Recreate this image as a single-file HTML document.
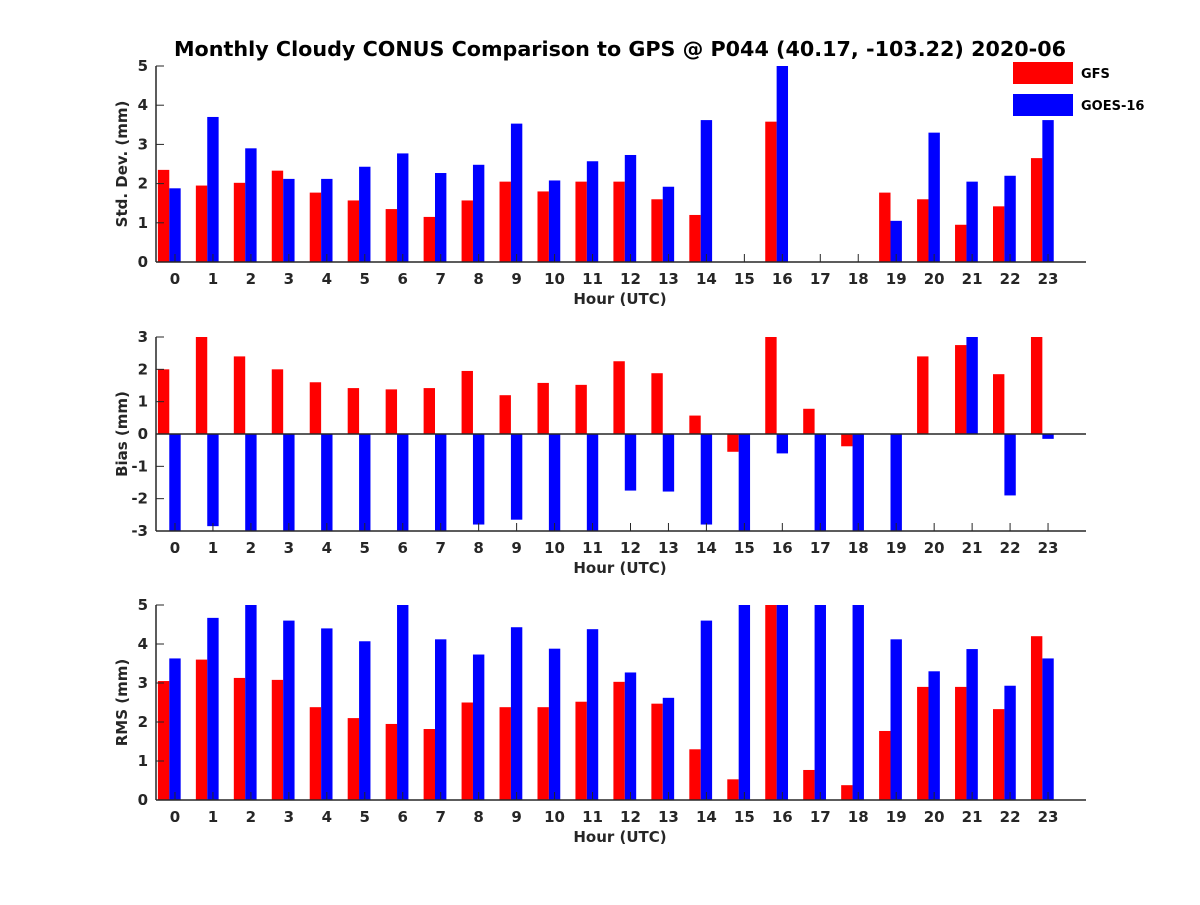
<!DOCTYPE html>
<html><head><meta charset="utf-8"><style>
body{margin:0;background:#fff}
svg text{font-family:"DejaVu Sans","Liberation Sans",sans-serif;font-weight:bold;fill:#262626}
</style></head><body>
<svg id="c" width="1200" height="900" xmlns="http://www.w3.org/2000/svg">
<rect width="1200" height="900" fill="#fff"/>
<text x="620" y="56" font-size="20.7" text-anchor="middle" style="fill:#000">Monthly Cloudy CONUS Comparison to GPS @ P044 (40.17, -103.22) 2020-06</text>
</svg>
<script>
const hours=[0,1,2,3,4,5,6,7,8,9,10,11,12,13,14,15,16,17,18,19,20,21,22,23];
const stdGFS=[2.35,1.95,2.02,2.33,1.77,1.57,1.35,1.15,1.57,2.05,1.8,2.05,2.05,1.6,1.2,0,3.58,0,0,1.77,1.6,0.95,1.42,2.65];
const stdGOES=[1.88,3.7,2.9,2.12,2.12,2.43,2.77,2.27,2.48,3.53,2.08,2.57,2.73,1.92,3.62,0,5,0,0,1.05,3.3,2.05,2.2,3.62];
const biasGFS=[2.0,3,2.4,2.0,1.6,1.42,1.38,1.42,1.95,1.2,1.58,1.52,2.25,1.88,0.57,-0.55,3,0.78,-0.38,0,2.4,2.75,1.85,3];
const biasGOES=[-3,-2.85,-3,-3,-3,-3,-3,-3,-2.8,-2.65,-3,-3,-1.75,-1.78,-2.8,-3,-0.6,-3,-3,-3,0,3,-1.9,-0.15];
const rmsGFS=[3.05,3.6,3.13,3.08,2.38,2.1,1.95,1.82,2.5,2.38,2.38,2.52,3.03,2.47,1.3,0.53,5,0.77,0.38,1.77,2.9,2.9,2.33,4.2];
const rmsGOES=[3.63,4.67,5,4.6,4.4,4.07,5,4.12,3.73,4.43,3.88,4.38,3.27,2.62,4.6,5,5,5,5,4.12,3.3,3.87,2.93,3.63];
const stdTicks=[0,1,2,3,4,5];
const biasTicks=[-3,-2,-1,0,1,2,3];
const rmsTicks=[0,1,2,3,4,5];
const svg=document.getElementById('c');
const NS='http://www.w3.org/2000/svg';
function mk(tag,attrs,parent){const e=document.createElementNS(NS,tag);for(const k in attrs)e.setAttribute(k,attrs[k]);(parent||svg).appendChild(e);return e;}
const L=156,R=1086,xmin=-0.5,xmax=24;
const xs=h=>L+(h-xmin)/(xmax-xmin)*(R-L);
const bw=0.3*(R-L)/(xmax-xmin);
function panel(name,top,bot,ymin,ymax,ticks,gfs,goes,ylabel){
  const g=mk('g',{});
  
  
  const ys=v=>bot-(v-ymin)/(ymax-ymin)*(bot-top);
  const cid='clip-'+name;
  const cp=mk('clipPath',{id:cid},g);mk('rect',{x:L,y:top,width:R-L,height:bot-top},cp);
  const bars=mk('g',{'clip-path':'url(#'+cid+')'},g);
  const base=ys(Math.max(ymin,0));
  hours.forEach((h,i)=>{
    [[gfs[i],-0.3,'#ff0000','gfs'],[goes[i],0,'#0000ff','goes']].forEach(([v,off,col,s])=>{
      const y=ys(v);
      const r=mk('rect',{x:xs(h+off)-bw/2,y:Math.min(y,base),width:bw,height:Math.abs(base-y),fill:col},bars);
      
      
    });
  });
  if(ymin<0) mk('line',{x1:L,x2:R,y1:ys(0),y2:ys(0),stroke:'#262626','stroke-width':1.5},g);
  mk('line',{x1:L,x2:L,y1:top,y2:bot,stroke:'#262626','stroke-width':1.5},g);
  mk('line',{x1:L,x2:R,y1:bot,y2:bot,stroke:'#262626','stroke-width':1.5},g);
  ticks.forEach(t=>{
    mk('line',{x1:L,x2:L+8,y1:ys(t),y2:ys(t),stroke:'#262626'},g);
    const tx=mk('text',{x:L-8,y:ys(t)+5,'font-size':15,'text-anchor':'end'},g);tx.textContent=t;
    
    
  });
  hours.forEach(h=>{
    mk('line',{x1:xs(h),x2:xs(h),y1:bot,y2:bot-8,stroke:'#262626'},g);
    const tx=mk('text',{x:xs(h),y:bot+22,'font-size':15,'text-anchor':'middle'},g);tx.textContent=h;
    
    
  });
  const xl=mk('text',{x:620,y:bot+42,'font-size':15,'text-anchor':'middle'},g);xl.textContent='Hour (UTC)';
  
  
  const yc=(top+bot)/2;
  const yl=mk('text',{x:127,y:yc,'font-size':15,'text-anchor':'middle',transform:'rotate(-90 127 '+yc+')'},g);yl.textContent=ylabel;
  
  
}
panel('std',66,262,0,5,stdTicks,stdGFS,stdGOES,'Std. Dev. (mm)');
panel('bias',337,531,-3,3,biasTicks,biasGFS,biasGOES,'Bias (mm)');
panel('rms',605,800,0,5,rmsTicks,rmsGFS,rmsGOES,'RMS (mm)');
const lg=mk('g',{});


[['GFS','#ff0000',62],['GOES-16','#0000ff',94]].forEach(([n,c,y])=>{
  const e=mk('g',{},lg);
  
  
  mk('rect',{x:1013,y:y,width:60,height:22,fill:c},e);
  const t=mk('text',{x:1081,y:y+16,'font-size':13,style:'fill:#000'},e);t.textContent=n;
});
</script>
</body></html>
